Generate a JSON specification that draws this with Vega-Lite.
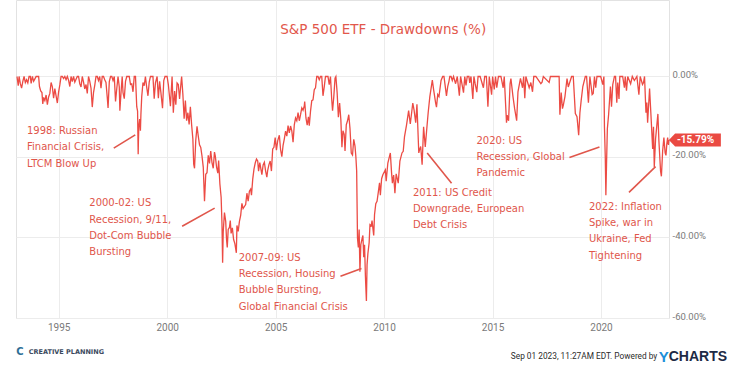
{
  "$schema": "https://vega.github.io/schema/vega-lite/v6.json",
  "width": 653,
  "height": 318,
  "padding": {"left": 14, "top": 0, "right": 0, "bottom": 0},
  "background": "white",
  "config": {"view": {"stroke": "#e2e2e2"}, "font": "DejaVu Sans"},
  "datasets": {
    "dd": [
      {"d":"1993-01-29","v":0},{"d":"1993-02-19","v":-2.3},{"d":"1993-03-05","v":0},{"d":"1993-03-26","v":-1.8},{"d":"1993-04-16","v":-2.9},{"d":"1993-05-07","v":-1.2},{"d":"1993-05-28","v":0},{"d":"1993-06-18","v":-1.5},{"d":"1993-07-09","v":-0.8},{"d":"1993-07-30","v":-1.6},{"d":"1993-08-20","v":0},{"d":"1993-09-10","v":0},{"d":"1993-09-24","v":-1.7},{"d":"1993-10-15","v":0},{"d":"1993-11-05","v":-1.2},{"d":"1993-11-26","v":-0.6},{"d":"1993-12-17","v":0},
      {"d":"1994-01-07","v":0},{"d":"1994-01-28","v":0},{"d":"1994-02-11","v":-2.5},{"d":"1994-03-04","v":-3.6},{"d":"1994-03-25","v":-4.0},{"d":"1994-04-08","v":-6.8},{"d":"1994-04-22","v":-5.2},{"d":"1994-05-13","v":-6.0},{"d":"1994-06-03","v":-4.6},{"d":"1994-06-24","v":-7.0},{"d":"1994-07-15","v":-5.1},{"d":"1994-08-05","v":-4.2},{"d":"1994-08-26","v":-1.5},{"d":"1994-09-16","v":-2.6},{"d":"1994-10-07","v":-5.4},{"d":"1994-10-28","v":-3.0},{"d":"1994-11-18","v":-4.8},{"d":"1994-12-09","v":-6.6},{"d":"1994-12-30","v":-3.9},
      {"d":"1995-01-20","v":-2.1},{"d":"1995-02-10","v":0},{"d":"1995-03-03","v":0},{"d":"1995-03-24","v":-0.5},{"d":"1995-04-14","v":0},{"d":"1995-05-05","v":-0.8},{"d":"1995-05-26","v":0},{"d":"1995-06-16","v":-0.9},{"d":"1995-07-07","v":-2.5},{"d":"1995-07-28","v":0},{"d":"1995-08-18","v":-1.3},{"d":"1995-09-08","v":0},{"d":"1995-09-29","v":-1.4},{"d":"1995-10-20","v":-0.7},{"d":"1995-11-10","v":0},{"d":"1995-12-01","v":0},{"d":"1995-12-22","v":-1.8},
      {"d":"1996-01-12","v":-2.6},{"d":"1996-02-02","v":0},{"d":"1996-02-23","v":-1.4},{"d":"1996-03-15","v":-3.1},{"d":"1996-04-05","v":-2.0},{"d":"1996-04-26","v":-4.2},{"d":"1996-05-17","v":0},{"d":"1996-06-07","v":-1.2},{"d":"1996-06-28","v":-2.9},{"d":"1996-07-19","v":-7.6},{"d":"1996-08-09","v":-4.0},{"d":"1996-08-30","v":-2.2},{"d":"1996-09-20","v":0},{"d":"1996-10-11","v":0},{"d":"1996-11-01","v":-1.0},{"d":"1996-11-22","v":0},{"d":"1996-12-13","v":-2.9},
      {"d":"1997-01-03","v":0},{"d":"1997-01-24","v":0},{"d":"1997-02-14","v":-0.8},{"d":"1997-03-07","v":-1.5},{"d":"1997-03-28","v":-5.1},{"d":"1997-04-11","v":-7.8},{"d":"1997-05-02","v":-1.3},{"d":"1997-05-23","v":0},{"d":"1997-06-13","v":0},{"d":"1997-07-04","v":-1.0},{"d":"1997-07-25","v":0},{"d":"1997-08-15","v":-6.2},{"d":"1997-09-05","v":-3.0},{"d":"1997-09-26","v":0},{"d":"1997-10-17","v":-2.6},{"d":"1997-10-27","v":-8.5},{"d":"1997-11-14","v":-4.3},{"d":"1997-12-05","v":0},{"d":"1997-12-19","v":-4.0},
      {"d":"1998-01-09","v":-5.5},{"d":"1998-01-30","v":-1.2},{"d":"1998-02-20","v":0},{"d":"1998-03-13","v":0},{"d":"1998-04-03","v":0},{"d":"1998-04-24","v":-2.0},{"d":"1998-05-15","v":-1.8},{"d":"1998-06-05","v":-3.8},{"d":"1998-06-26","v":0},{"d":"1998-07-17","v":0},{"d":"1998-08-07","v":-7.5},{"d":"1998-08-21","v":-8.6},{"d":"1998-08-31","v":-19.3},{"d":"1998-09-04","v":-16.2},{"d":"1998-09-11","v":-12.4},{"d":"1998-09-25","v":-10.6},{"d":"1998-10-08","v":-13.5},{"d":"1998-10-16","v":-9.5},{"d":"1998-10-30","v":-5.0},{"d":"1998-11-20","v":-1.5},{"d":"1998-12-11","v":-2.3},{"d":"1998-12-31","v":0},
      {"d":"1999-01-22","v":-2.7},{"d":"1999-02-12","v":-4.8},{"d":"1999-03-05","v":-1.4},{"d":"1999-03-26","v":0},{"d":"1999-04-16","v":0},{"d":"1999-05-07","v":0},{"d":"1999-05-28","v":-5.5},{"d":"1999-06-18","v":-1.6},{"d":"1999-07-16","v":0},{"d":"1999-08-06","v":-5.4},{"d":"1999-08-27","v":-1.2},{"d":"1999-09-17","v":-3.9},{"d":"1999-10-15","v":-7.9},{"d":"1999-11-05","v":-1.0},{"d":"1999-11-26","v":0},{"d":"1999-12-17","v":0},{"d":"1999-12-31","v":0},
      {"d":"2000-01-21","v":-2.0},{"d":"2000-02-25","v":-7.4},{"d":"2000-03-24","v":0},{"d":"2000-04-14","v":-9.0},{"d":"2000-05-05","v":-3.6},{"d":"2000-05-26","v":-7.0},{"d":"2000-06-16","v":-1.6},{"d":"2000-07-07","v":-2.0},{"d":"2000-07-28","v":-5.6},{"d":"2000-08-25","v":-1.0},{"d":"2000-09-01","v":0},{"d":"2000-09-22","v":-4.5},{"d":"2000-10-13","v":-10.5},{"d":"2000-11-03","v":-6.0},{"d":"2000-11-24","v":-11.0},{"d":"2000-12-15","v":-9.0},
      {"d":"2001-01-05","v":-11.9},{"d":"2001-01-26","v":-7.5},{"d":"2001-02-16","v":-12.0},{"d":"2001-03-09","v":-15.5},{"d":"2001-03-23","v":-21.8},{"d":"2001-04-06","v":-22.8},{"d":"2001-04-27","v":-15.8},{"d":"2001-05-18","v":-12.4},{"d":"2001-06-08","v":-14.8},{"d":"2001-06-29","v":-17.0},{"d":"2001-07-20","v":-17.6},{"d":"2001-08-10","v":-19.8},{"d":"2001-08-31","v":-22.5},{"d":"2001-09-21","v":-31.0},{"d":"2001-10-12","v":-24.3},{"d":"2001-11-02","v":-23.9},{"d":"2001-11-23","v":-19.6},{"d":"2001-12-14","v":-21.6},
      {"d":"2002-01-04","v":-18.5},{"d":"2002-01-25","v":-21.4},{"d":"2002-02-15","v":-22.8},{"d":"2002-03-08","v":-18.8},{"d":"2002-03-22","v":-19.8},{"d":"2002-04-12","v":-22.5},{"d":"2002-05-03","v":-24.0},{"d":"2002-05-17","v":-20.9},{"d":"2002-06-07","v":-26.7},{"d":"2002-06-28","v":-30.0},{"d":"2002-07-12","v":-36.5},{"d":"2002-07-23","v":-46.3},{"d":"2002-08-02","v":-38.6},{"d":"2002-08-23","v":-33.8},{"d":"2002-09-13","v":-36.0},{"d":"2002-09-27","v":-40.5},{"d":"2002-10-09","v":-42.5},{"d":"2002-10-25","v":-38.0},{"d":"2002-11-15","v":-37.5},{"d":"2002-11-29","v":-35.8},{"d":"2002-12-13","v":-39.0},
      {"d":"2003-01-03","v":-37.6},{"d":"2003-01-24","v":-40.5},{"d":"2003-02-14","v":-41.5},{"d":"2003-03-11","v":-43.8},{"d":"2003-03-21","v":-37.0},{"d":"2003-04-11","v":-38.5},{"d":"2003-05-02","v":-36.0},{"d":"2003-05-23","v":-34.5},{"d":"2003-06-13","v":-31.5},{"d":"2003-07-03","v":-32.8},{"d":"2003-07-25","v":-32.3},{"d":"2003-08-15","v":-31.8},{"d":"2003-09-05","v":-29.0},{"d":"2003-09-26","v":-31.0},{"d":"2003-10-17","v":-28.5},{"d":"2003-11-07","v":-28.0},{"d":"2003-11-21","v":-29.5},{"d":"2003-12-12","v":-25.5},
      {"d":"2004-01-02","v":-23.0},{"d":"2004-01-23","v":-21.5},{"d":"2004-02-13","v":-20.5},{"d":"2004-03-05","v":-21.0},{"d":"2004-03-19","v":-23.5},{"d":"2004-04-09","v":-21.4},{"d":"2004-04-30","v":-23.2},{"d":"2004-05-14","v":-24.4},{"d":"2004-06-04","v":-22.0},{"d":"2004-06-25","v":-21.3},{"d":"2004-07-16","v":-23.5},{"d":"2004-08-06","v":-25.0},{"d":"2004-08-20","v":-23.3},{"d":"2004-09-10","v":-21.9},{"d":"2004-10-01","v":-21.0},{"d":"2004-10-22","v":-23.5},{"d":"2004-11-12","v":-18.0},{"d":"2004-12-03","v":-17.6},{"d":"2004-12-24","v":-15.2},
      {"d":"2005-01-14","v":-18.3},{"d":"2005-02-04","v":-16.0},{"d":"2005-03-04","v":-14.6},{"d":"2005-03-25","v":-18.2},{"d":"2005-04-15","v":-19.9},{"d":"2005-05-06","v":-17.1},{"d":"2005-05-27","v":-15.5},{"d":"2005-06-17","v":-13.6},{"d":"2005-07-08","v":-14.8},{"d":"2005-07-29","v":-12.2},{"d":"2005-08-19","v":-14.0},{"d":"2005-09-09","v":-12.3},{"d":"2005-09-30","v":-13.5},{"d":"2005-10-21","v":-16.3},{"d":"2005-11-11","v":-12.0},{"d":"2005-12-02","v":-10.3},{"d":"2005-12-23","v":-11.0},
      {"d":"2006-01-13","v":-9.0},{"d":"2006-02-03","v":-11.0},{"d":"2006-02-24","v":-9.5},{"d":"2006-03-17","v":-7.8},{"d":"2006-04-07","v":-8.4},{"d":"2006-04-28","v":-7.3},{"d":"2006-05-05","v":-6.2},{"d":"2006-05-26","v":-10.3},{"d":"2006-06-16","v":-12.1},{"d":"2006-07-07","v":-10.0},{"d":"2006-07-21","v":-12.2},{"d":"2006-08-11","v":-8.6},{"d":"2006-09-01","v":-6.0},{"d":"2006-09-22","v":-5.8},{"d":"2006-10-13","v":-3.3},{"d":"2006-11-03","v":-2.8},{"d":"2006-11-24","v":0},{"d":"2006-12-15","v":0},
      {"d":"2007-01-05","v":-0.8},{"d":"2007-01-26","v":0},{"d":"2007-02-16","v":0},{"d":"2007-03-09","v":-4.8},{"d":"2007-03-30","v":-2.6},{"d":"2007-04-20","v":0},{"d":"2007-05-11","v":0},{"d":"2007-06-01","v":0},{"d":"2007-06-22","v":-2.0},{"d":"2007-07-13","v":0},{"d":"2007-08-03","v":-5.7},{"d":"2007-08-17","v":-8.5},{"d":"2007-09-07","v":-5.0},{"d":"2007-09-28","v":-0.4},{"d":"2007-10-12","v":0},{"d":"2007-11-02","v":-4.0},{"d":"2007-11-23","v":-10.1},{"d":"2007-12-14","v":-6.6},
      {"d":"2008-01-04","v":-10.8},{"d":"2008-01-22","v":-17.6},{"d":"2008-02-08","v":-13.5},{"d":"2008-02-29","v":-14.4},{"d":"2008-03-14","v":-18.5},{"d":"2008-04-04","v":-12.0},{"d":"2008-04-25","v":-11.0},{"d":"2008-05-16","v":-9.5},{"d":"2008-06-06","v":-13.0},{"d":"2008-06-27","v":-19.0},{"d":"2008-07-18","v":-19.5},{"d":"2008-08-08","v":-15.6},{"d":"2008-08-29","v":-17.3},{"d":"2008-09-12","v":-19.8},{"d":"2008-09-26","v":-23.5},{"d":"2008-10-10","v":-40.2},{"d":"2008-10-24","v":-42.5},{"d":"2008-11-07","v":-38.0},{"d":"2008-11-20","v":-48.5},{"d":"2008-12-05","v":-41.8},{"d":"2008-12-26","v":-40.3},
      {"d":"2009-01-09","v":-39.5},{"d":"2009-01-23","v":-44.9},{"d":"2009-02-06","v":-41.8},{"d":"2009-02-20","v":-49.5},{"d":"2009-03-09","v":-55.8},{"d":"2009-03-20","v":-46.8},{"d":"2009-04-03","v":-44.0},{"d":"2009-04-24","v":-41.3},{"d":"2009-05-08","v":-36.8},{"d":"2009-05-29","v":-37.1},{"d":"2009-06-12","v":-35.8},{"d":"2009-07-10","v":-39.5},{"d":"2009-07-24","v":-34.3},{"d":"2009-08-14","v":-31.6},{"d":"2009-09-04","v":-31.0},{"d":"2009-09-25","v":-28.8},{"d":"2009-10-16","v":-26.4},{"d":"2009-10-30","v":-29.5},{"d":"2009-11-20","v":-25.4},{"d":"2009-12-11","v":-24.4},
      {"d":"2010-01-22","v":-23.2},{"d":"2010-02-05","v":-26.0},{"d":"2010-03-05","v":-21.5},{"d":"2010-04-16","v":-19.0},{"d":"2010-05-07","v":-24.0},{"d":"2010-05-21","v":-26.5},{"d":"2010-06-11","v":-24.5},{"d":"2010-07-02","v":-29.0},{"d":"2010-07-23","v":-24.2},{"d":"2010-08-27","v":-26.5},{"d":"2010-09-24","v":-21.0},{"d":"2010-10-29","v":-19.0},{"d":"2010-11-19","v":-18.6},{"d":"2010-12-10","v":-15.0},
      {"d":"2011-01-14","v":-12.0},{"d":"2011-02-18","v":-8.5},{"d":"2011-03-18","v":-11.8},{"d":"2011-04-29","v":-6.6},{"d":"2011-05-20","v":-8.3},{"d":"2011-06-17","v":-11.5},{"d":"2011-07-08","v":-6.9},{"d":"2011-08-08","v":-19.0},{"d":"2011-08-19","v":-18.3},{"d":"2011-09-09","v":-17.4},{"d":"2011-09-23","v":-20.0},{"d":"2011-10-03","v":-21.9},{"d":"2011-10-28","v":-12.5},{"d":"2011-11-25","v":-17.5},{"d":"2011-12-16","v":-13.8},
      {"d":"2012-01-13","v":-9.0},{"d":"2012-02-10","v":-5.0},{"d":"2012-03-23","v":-0.9},{"d":"2012-04-13","v":-3.2},{"d":"2012-05-18","v":-6.6},{"d":"2012-06-01","v":-7.6},{"d":"2012-06-22","v":-4.5},{"d":"2012-07-13","v":-5.0},{"d":"2012-08-17","v":-1.0},{"d":"2012-09-14","v":0},{"d":"2012-10-05","v":0},{"d":"2012-11-16","v":-4.8},{"d":"2012-12-07","v":-2.5},{"d":"2012-12-28","v":-1.2},
      {"d":"2013-01-11","v":0},{"d":"2013-02-01","v":0},{"d":"2013-02-22","v":-1.0},{"d":"2013-03-15","v":0},{"d":"2013-04-19","v":-1.8},{"d":"2013-05-17","v":0},{"d":"2013-06-21","v":-4.8},{"d":"2013-07-12","v":0},{"d":"2013-08-30","v":-4.0},{"d":"2013-09-20","v":0},{"d":"2013-10-11","v":-2.2},{"d":"2013-11-01","v":0},{"d":"2013-11-29","v":0},{"d":"2013-12-13","v":-1.6},
      {"d":"2014-01-03","v":0},{"d":"2014-02-03","v":-5.6},{"d":"2014-02-21","v":0},{"d":"2014-03-14","v":-1.8},{"d":"2014-04-11","v":-3.9},{"d":"2014-05-02","v":0},{"d":"2014-06-06","v":0},{"d":"2014-07-31","v":-2.8},{"d":"2014-08-22","v":0},{"d":"2014-09-19","v":0},{"d":"2014-10-15","v":-7.5},{"d":"2014-11-07","v":0},{"d":"2014-12-16","v":-4.5},
      {"d":"2015-01-02","v":0},{"d":"2015-01-30","v":-3.2},{"d":"2015-02-20","v":0},{"d":"2015-03-13","v":-2.8},{"d":"2015-04-10","v":0},{"d":"2015-05-22","v":0},{"d":"2015-06-29","v":-2.8},{"d":"2015-07-17","v":0},{"d":"2015-08-24","v":-11.5},{"d":"2015-09-04","v":-9.6},{"d":"2015-09-28","v":-11.0},{"d":"2015-10-23","v":-1.8},{"d":"2015-11-06","v":-0.5},{"d":"2015-12-11","v":-5.0},
      {"d":"2016-01-08","v":-8.0},{"d":"2016-02-11","v":-11.0},{"d":"2016-03-04","v":-3.8},{"d":"2016-04-15","v":-0.5},{"d":"2016-05-20","v":-2.8},{"d":"2016-06-08","v":0},{"d":"2016-06-27","v":-5.4},{"d":"2016-07-15","v":0},{"d":"2016-09-09","v":-2.8},{"d":"2016-10-07","v":-1.5},{"d":"2016-11-04","v":-3.8},{"d":"2016-11-25","v":0},{"d":"2016-12-30","v":0},
      {"d":"2017-03-24","v":-1.8},{"d":"2017-04-14","v":-1.4},{"d":"2017-05-05","v":0},{"d":"2017-08-11","v":-1.5},{"d":"2017-09-01","v":0},{"d":"2017-12-29","v":0},
      {"d":"2018-01-26","v":0},{"d":"2018-02-08","v":-9.5},{"d":"2018-03-02","v":-4.0},{"d":"2018-03-23","v":-8.0},{"d":"2018-04-06","v":-7.2},{"d":"2018-05-04","v":-5.0},{"d":"2018-06-08","v":-0.5},{"d":"2018-06-29","v":-2.6},{"d":"2018-08-24","v":0},{"d":"2018-09-21","v":0},{"d":"2018-10-26","v":-9.2},{"d":"2018-11-23","v":-10.0},{"d":"2018-12-21","v":-14.6},
      {"d":"2019-01-11","v":-9.0},{"d":"2019-02-01","v":-6.0},{"d":"2019-03-01","v":-2.5},{"d":"2019-04-12","v":0},{"d":"2019-05-03","v":0},{"d":"2019-06-03","v":-6.5},{"d":"2019-06-28","v":0},{"d":"2019-08-05","v":-4.5},{"d":"2019-08-23","v":-4.2},{"d":"2019-09-13","v":0},{"d":"2019-10-04","v":-2.8},{"d":"2019-10-25","v":0},{"d":"2019-12-27","v":0},
      {"d":"2020-01-31","v":-2.0},{"d":"2020-02-19","v":0},{"d":"2020-02-28","v":-12.5},{"d":"2020-03-13","v":-20.0},{"d":"2020-03-23","v":-29.5},{"d":"2020-04-03","v":-22.0},{"d":"2020-04-17","v":-13.0},{"d":"2020-05-08","v":-9.5},{"d":"2020-06-08","v":-2.5},{"d":"2020-06-26","v":-7.5},{"d":"2020-07-17","v":-2.0},{"d":"2020-08-14","v":0},{"d":"2020-09-02","v":0},{"d":"2020-09-23","v":-6.5},{"d":"2020-10-09","v":-1.5},{"d":"2020-10-30","v":-5.6},{"d":"2020-11-13","v":0},{"d":"2020-12-31","v":0},
      {"d":"2021-01-29","v":-2.8},{"d":"2021-02-12","v":0},{"d":"2021-03-05","v":-3.5},{"d":"2021-03-26","v":0},{"d":"2021-05-14","v":-1.8},{"d":"2021-06-11","v":0},{"d":"2021-07-16","v":-1.0},{"d":"2021-08-27","v":0},{"d":"2021-09-30","v":-4.5},{"d":"2021-10-22","v":0},{"d":"2021-11-30","v":-2.0},{"d":"2021-12-17","v":-1.5},
      {"d":"2022-01-03","v":0},{"d":"2022-01-27","v":-9.0},{"d":"2022-02-11","v":-6.5},{"d":"2022-02-24","v":-11.5},{"d":"2022-03-29","v":-3.0},{"d":"2022-04-14","v":-7.5},{"d":"2022-05-20","v":-18.0},{"d":"2022-06-03","v":-12.5},{"d":"2022-06-16","v":-22.5},{"d":"2022-07-08","v":-15.5},{"d":"2022-08-16","v":-9.3},{"d":"2022-09-02","v":-16.0},{"d":"2022-09-30","v":-23.5},{"d":"2022-10-14","v":-24.8},{"d":"2022-11-04","v":-18.5},{"d":"2022-11-25","v":-15.2},{"d":"2022-12-16","v":-19.0},{"d":"2022-12-30","v":-19.6},{"d":"2023-01-13","v":-16.8},{"d":"2023-01-27","v":-15.2},{"d":"2023-02-10","v":-17.0},{"d":"2023-02-17","v":-15.79}
    ],
    "notes": [
      {"d":"1993-07-16","v":-13.55,"t":["1998: Russian","Financial Crisis,","LTCM Blow Up"]},
      {"d":"1996-05-30","v":-31.5,"t":["2000-02: US","Recession, 9/11,","Dot-Com Bubble","Bursting"]},
      {"d":"2003-04-20","v":-45.0,"t":["2007-09: US","Recession, Housing","Bubble Bursting,","Global Financial Crisis"]},
      {"d":"2011-05-01","v":-28.9,"t":["2011: US Credit","Downgrade, European","Debt Crisis"]},
      {"d":"2014-04-05","v":-15.95,"t":["2020: US","Recession, Global","Pandemic"]},
      {"d":"2019-06-13","v":-32.35,"t":["2022: Inflation","Spike, war in","Ukraine, Fed","Tightening"]}
    ],
    "leaders": [
      {"d":"1997-07-16","v":-17.8,"d2":"1998-07-13","v2":-14.5},
      {"d":"2000-09-09","v":-37.2,"d2":"2002-03-11","v2":-32.7},
      {"d":"2007-12-28","v":-49.6,"d2":"2008-12-16","v2":-47.7},
      {"d":"2011-12-28","v":-19.0,"d2":"2013-02-10","v2":-26.5},
      {"d":"2018-07-19","v":-20.1,"d2":"2019-12-06","v2":-17.5},
      {"d":"2021-04-16","v":-28.8,"d2":"2022-07-08","v2":-22.4}
    ],
    "title": [{"d":"2009-12-17","v":11.6,"t":"S&P 500 ETF - Drawdowns (%)"}],
    "last": [{"d":"2023-02-17","v":-15.79,"t":"-15.79%"}],
    "footR": [{"d":"2022-08-06","v":-69.8,"t":"Sep 01 2023, 11:27AM EDT.  Powered by"}],
    "footY": [{"d":"2022-09-01","v":-69.8,"t":"Y"}],
    "footC": [{"d":"2023-02-14","v":-69.8,"t":"CHARTS"}],
    "footL": [{"d":"1993-08-14","v":-68.4,"t":"CREATIVE PLANNING"}],
    "logo": [{"d":"1993-03-18","v":-68.4,"t":"C"}]
  },
  "layer": [
    {
      "data": {"name": "dd"},
      "mark": {"type": "line", "color": "#ec4b44", "strokeWidth": 1.3},
      "encoding": {
        "x": {"field": "d", "type": "temporal",
          "scale": {"domain": [{"year": 1993, "month": 1, "date": 12}, {"year": 2023, "month": 2, "date": 19}]},
          "axis": {"title": null, "format": "%Y", "tickCount": {"interval": "year", "step": 5}, "ticks": false, "domain": false, "grid": true, "gridColor": "#ececec", "labelColor": "#7a7a7a", "labelFont": "Roboto", "labelFontSize": 10, "labelPadding": 4, "labelFlush": false}},
        "y": {"field": "v", "type": "quantitative",
          "scale": {"domain": [-60, 19], "nice": false},
          "axis": {"title": null, "orient": "right", "values": [0, -20, -40, -60], "labelExpr": "(datum.value < 0 ? '-' : '') + format(abs(datum.value), '.2f') + '%'", "ticks": false, "domain": false, "grid": true, "gridColor": "#ececec", "labelColor": "#7a7a7a", "labelFont": "Roboto", "labelFontSize": 9.5, "labelPadding": 3, "labelOffset": -2, "labelFlush": false}}
      }
    },
    {
      "data": {"name": "leaders"},
      "mark": {"type": "rule", "color": "#e0564b", "strokeWidth": 1.6},
      "encoding": {
        "x": {"field": "d", "type": "temporal"},
        "y": {"field": "v", "type": "quantitative"},
        "x2": {"field": "d2"},
        "y2": {"field": "v2"}
      }
    },
    {
      "data": {"name": "notes"},
      "mark": {"type": "text", "align": "left", "baseline": "middle", "font": "DejaVu Sans", "fontSize": 10, "lineHeight": 16.3, "color": "#e0564b"},
      "encoding": {
        "x": {"field": "d", "type": "temporal"},
        "y": {"field": "v", "type": "quantitative"},
        "text": {"field": "t"}
      }
    },
    {
      "data": {"name": "title"},
      "mark": {"type": "text", "align": "center", "baseline": "middle", "font": "DejaVu Sans", "fontSize": 13.5, "color": "#e2574c"},
      "encoding": {
        "x": {"field": "d", "type": "temporal"},
        "y": {"field": "v", "type": "quantitative"},
        "text": {"field": "t"}
      }
    },
    {
      "data": {"name": "last"},
      "mark": {"type": "point", "filled": true, "opacity": 1, "size": 10816, "shape": "M0,0L0.12,-0.125L1,-0.125L1,0.125L0.12,0.125Z", "color": "#ea4a42", "strokeWidth": 0},
      "encoding": {
        "x": {"field": "d", "type": "temporal"},
        "y": {"field": "v", "type": "quantitative"}
      }
    },
    {
      "data": {"name": "last"},
      "mark": {"type": "text", "align": "left", "baseline": "middle", "dx": 8, "font": "Roboto", "fontSize": 10, "fontWeight": "bold", "color": "white"},
      "encoding": {
        "x": {"field": "d", "type": "temporal"},
        "y": {"field": "v", "type": "quantitative"},
        "text": {"field": "t"}
      }
    },
    {
      "data": {"name": "footR"},
      "mark": {"type": "text", "align": "right", "baseline": "middle", "font": "Roboto", "fontSize": 8.3, "color": "#2b2b2b"},
      "encoding": {
        "x": {"field": "d", "type": "temporal"},
        "y": {"field": "v", "type": "quantitative"},
        "text": {"field": "t"}
      }
    },
    {
      "data": {"name": "footY"},
      "mark": {"type": "text", "align": "left", "baseline": "middle", "font": "Liberation Sans", "fontSize": 15, "fontWeight": "bold", "color": "#1c8fd9"},
      "encoding": {
        "x": {"field": "d", "type": "temporal"},
        "y": {"field": "v", "type": "quantitative"},
        "text": {"field": "t"}
      }
    },
    {
      "data": {"name": "footC"},
      "mark": {"type": "text", "align": "left", "baseline": "middle", "font": "Liberation Sans", "fontSize": 14, "fontWeight": "bold", "color": "#1d2a45"},
      "encoding": {
        "x": {"field": "d", "type": "temporal"},
        "y": {"field": "v", "type": "quantitative"},
        "text": {"field": "t"}
      }
    },
    {
      "data": {"name": "footL"},
      "mark": {"type": "text", "align": "left", "baseline": "middle", "font": "DejaVu Sans", "fontSize": 6.5, "fontWeight": "bold", "color": "#3b4a5e"},
      "encoding": {
        "x": {"field": "d", "type": "temporal"},
        "y": {"field": "v", "type": "quantitative"},
        "text": {"field": "t"}
      }
    },
    {
      "data": {"name": "logo"},
      "mark": {"type": "text", "align": "center", "baseline": "middle", "font": "DejaVu Sans", "fontSize": 10, "fontWeight": "bold", "color": "#2f6f96"},
      "encoding": {
        "x": {"field": "d", "type": "temporal"},
        "y": {"field": "v", "type": "quantitative"},
        "text": {"field": "t"}
      }
    }
  ]
}
